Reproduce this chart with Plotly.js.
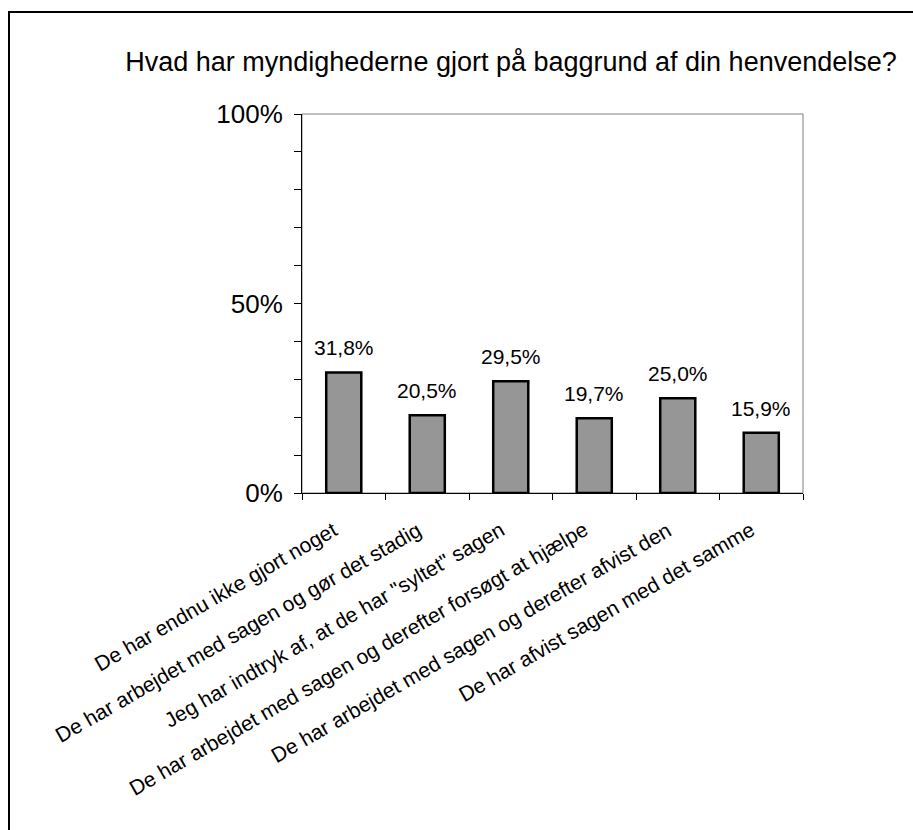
<!DOCTYPE html>
<html>
<head>
<meta charset="utf-8">
<script src="https://cdn.plot.ly/plotly-3.0.1.min.js"></script>
<style>
  body { margin: 0; background: #fff; }
  #plot { width: 913px; height: 830px; }
</style>
</head>
<body>
<div id="plot"></div>
<script>
// categories and values (percent)
let categories = [
  "De har endnu ikke gjort noget",
  "De har arbejdet med sagen og gør det stadig",
  "Jeg har indtryk af, at de har \"syltet\" sagen",
  "De har arbejdet med sagen og derefter forsøgt at hjælpe",
  "De har arbejdet med sagen og derefter afvist den",
  "De har afvist sagen med det samme"
];
let values = [31.8, 20.5, 29.5, 19.7, 25.0, 15.9];
let yTicks = [0, 50, 100];

let fontFam = "Liberation Sans, Arial, sans-serif";

let trace1 = {
  x: categories,
  y: values,
  type: "bar",
  marker: { color: "#969696", line: { color: "#000", width: 2.5 } },
  hoverinfo: "none"
};

let labels = [];
for (let i = 0; i < categories.length; i++) {
  // value labels above bars
  labels.push({
    x: categories[i],
    y: values[i],
    text: values[i].toFixed(1).replace(".", ",") + "%",
    showarrow: false,
    yanchor: "bottom",
    yshift: 11,
    font: { family: fontFam, size: 21, color: "#000" }
  });
  // slanted category labels under the axis
  labels.push({
    x: categories[i],
    y: 0,
    yref: "paper",
    text: categories[i],
    textangle: -30,
    showarrow: false,
    xanchor: "right",
    yanchor: "top",
    xshift: 0,
    yshift: -22,
    font: { family: fontFam, size: 21, color: "#000" }
  });
}

let layout1 = {
  width: 913,
  height: 830,
  margin: { l: 302, r: 110, t: 114, b: 337 },
  paper_bgcolor: "#fff",
  plot_bgcolor: "#fff",
  showlegend: false,
  bargap: 0.58,
  font: { family: fontFam, color: "#000" },
  title: {
    text: "Hvad har myndighederne gjort på baggrund af din henvendelse?",
    font: { family: fontFam, size: 27, color: "#000" },
    x: 511 / 913,
    xanchor: "center",
    xref: "container",
    y: 1 - 62 / 830,
    yanchor: "middle",
    yref: "container"
  },
  xaxis: {
    type: "category",
    range: [-0.5, categories.length - 0.5],
    autorange: false,
    tickson: "boundaries",
    ticks: "outside",
    ticklen: 6,
    tickcolor: "#000",
    showline: true,
    linecolor: "#000",
    linewidth: 1,
    showgrid: false,
    showticklabels: false
  },
  yaxis: {
    range: [0, 100],
    autorange: false,
    tickvals: yTicks,
    ticktext: yTicks.map(v => v + "%"),
    ticks: "outside",
    ticklen: 7,
    tickcolor: "#000",
    showline: true,
    linecolor: "#000",
    linewidth: 1,
    showgrid: false,
    zeroline: false,
    ticklabelstandoff: 6,
    minor: { dtick: 10, ticks: "outside", ticklen: 7, tickcolor: "#000", showgrid: false },
    tickfont: { family: fontFam, size: 26, color: "#000" }
  },
  annotations: labels,
  shapes: [
    // plot frame
    { type: "rect", xref: "x domain", yref: "y domain", x0: 0, x1: 1, y0: 0, y1: 1,
      line: { color: "#808080", width: 1 }, layer: "below" },
    // outer border
    { type: "rect", xref: "paper", yref: "paper", x0: (9 - 302) / 501, x1: 2, y0: -2, y1: (493 - 12) / 379,
      line: { color: "#000", width: 2 } }
  ]
};

Plotly.newPlot("plot", [trace1], layout1, { displayModeBar: false, staticPlot: true });
</script>
</body>
</html>
